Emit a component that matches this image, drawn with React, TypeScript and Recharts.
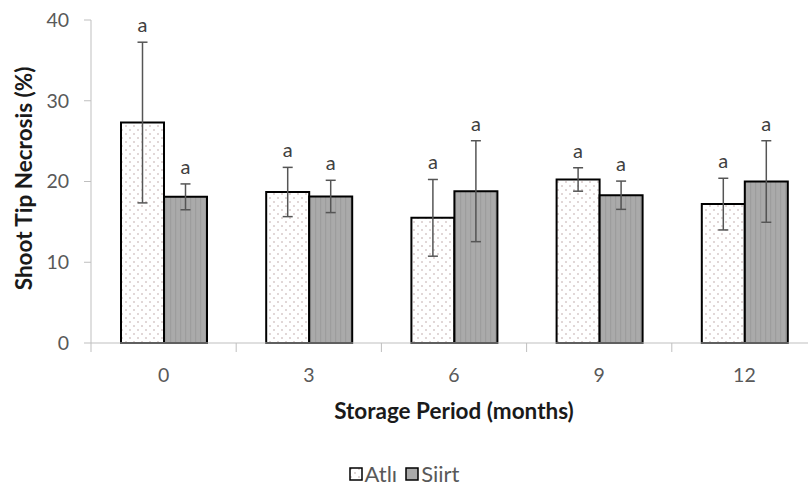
import React from 'react';
import { BarChart, Bar, XAxis, YAxis, ErrorBar, LabelList, Label, Legend } from 'recharts';

const categories = ['0', '3', '6', '9', '12'];
const atliValues = [27.3, 18.7, 15.5, 20.25, 17.2];
const atliErrors = [9.95, 3.05, 4.75, 1.45, 3.2];
const atliLetters = ['a', 'a', 'a', 'a', 'a'];
const siirtValues = [18.1, 18.15, 18.8, 18.3, 20.0];
const siirtErrors = [1.6, 2.0, 6.25, 1.75, 5.05];
const siirtLetters = ['a', 'a', 'a', 'a', 'a'];
const yTicks = [0, 10, 20, 30, 40];

const data = categories.map((c, i) => ({
  period: c,
  atli: atliValues[i],
  atliErr: atliErrors[i],
  siirt: siirtValues[i],
  siirtErr: siirtErrors[i],
}));

const FONT = 'Lato, "Open Sans", sans-serif';
const AXIS_GRAY = '#bfbfbf';
const TEXT_GRAY = '#595959';

const XTick = (props: any) => {
  const { x, y, payload } = props;
  const off = payload && payload.offset != null ? payload.offset : 0;
  return (
    <g>
      <line x1={x - off} x2={x - off} y1={y} y2={y + 9} stroke={AXIS_GRAY} strokeWidth={1} />
      <text x={x} y={y + 39} textAnchor="middle" fill={TEXT_GRAY} fontSize={19.5} fontFamily={FONT}>
        {payload.value}
      </text>
    </g>
  );
};

const makeLetter = (errs: number[], letters: string[]) => (props: any) => {
  const { x, y, width, height, value, index } = props;
  const v = Number(value);
  if (!v) return null;
  const ppu = Number(height) / v;
  const topY = Number(y) - errs[index] * ppu;
  return (
    <text
      x={Number(x) + Number(width) / 2}
      y={topY - 10}
      textAnchor="middle"
      fill="#404040"
      fontSize={20}
      fontFamily={FONT}
    >
      {letters[index]}
    </text>
  );
};

const YTitle = (props: any) => {
  const vb = props.viewBox || {};
  const cy = (vb.y || 0) + (vb.height || 0) / 2 - 3;
  return (
    <text
      transform={`translate(32, ${cy}) rotate(-90)`}
      textAnchor="middle"
      fill="#1a1a1a"
      fontSize={22.5}
      fontWeight="bold"
      fontFamily={FONT}
    >
      Shoot Tip Necrosis (%)
    </text>
  );
};

const XTitle = (props: any) => {
  const vb = props.viewBox || {};
  const cx = (vb.x || 0) + (vb.width || 0) / 2;
  return (
    <text
      x={cx}
      y={(vb.y || 0) + 76}
      textAnchor="middle"
      fill="#1a1a1a"
      fontSize={22.5}
      fontWeight="bold"
      fontFamily={FONT}
    >
      Storage Period (months)
    </text>
  );
};

const LegendContent = () => (
  <div
    style={{
      display: 'flex',
      justifyContent: 'center',
      alignItems: 'center',
      fontFamily: FONT,
      fontSize: 22,
      lineHeight: '26px',
      color: TEXT_GRAY,
      width: 808,
    }}
  >
    <svg width={14} height={14} style={{ marginRight: 2 }}>
      <rect x={1} y={1} width={12} height={12} fill="url(#dotsPattern)" stroke="#000" strokeWidth={1.5} />
    </svg>
    <span style={{ marginRight: 8 }}>Atlı</span>
    <svg width={14} height={14} style={{ marginRight: 2 }}>
      <rect x={1} y={1} width={12} height={12} fill="#a9a9a9" stroke="#000" strokeWidth={1.5} />
    </svg>
    <span>Siirt</span>
  </div>
);

export default function App() {
  return (
    <div
      style={{
        position: 'absolute',
        left: 0,
        top: 0,
        width: 808,
        height: 488,
        overflow: 'hidden',
        background: '#fff',
      }}
    >
      <BarChart
        width={817}
        height={488}
        data={data}
        margin={{ top: 20, right: 0, bottom: 0, left: 0 }}
        barCategoryGap={30}
        barGap={0}
      >
        <defs>
          <pattern id="dotsPattern" width="8" height="8" patternUnits="userSpaceOnUse">
            <rect width="8" height="8" fill="#ffffff" />
            <circle cx="2" cy="2" r="0.75" fill="#b49c9c" />
            <circle cx="6" cy="6" r="0.75" fill="#b49c9c" />
          </pattern>
          <pattern id="stripesPattern" width="5" height="5" patternUnits="userSpaceOnUse">
            <rect width="5" height="5" fill="#aaaaaa" />
            <rect x="0" width="1.2" height="5" fill="#9d9d9d" />
          </pattern>
        </defs>
        <XAxis
          dataKey="period"
          height={145}
          axisLine={{ stroke: AXIS_GRAY, strokeWidth: 1 }}
          tickLine={false}
          tickSize={0}
          tickMargin={0}
          tick={<XTick />}
          interval={0}
        >
          <Label content={<XTitle />} />
        </XAxis>
        <YAxis
          width={91}
          domain={[0, 40]}
          ticks={yTicks}
          axisLine={{ stroke: AXIS_GRAY, strokeWidth: 1 }}
          tickLine={{ stroke: AXIS_GRAY, strokeWidth: 1 }}
          tickSize={7}
          tickMargin={15}
          tick={{ fill: TEXT_GRAY, fontSize: 19.5, fontFamily: FONT }}
        >
          <Label content={<YTitle />} />
        </YAxis>
        <Legend
          layout="horizontal"
          verticalAlign="middle"
          align="center"
          content={<LegendContent />}
          wrapperStyle={{ top: 461, left: 0, width: 808 }}
        />
        <Bar
          dataKey="atli"
          name="Atlı"
          fill="url(#dotsPattern)"
          stroke="#000"
          strokeWidth={2}
          isAnimationActive={false}
        >
          <ErrorBar dataKey="atliErr" width={5} stroke="#555" strokeWidth={1.5} />
          <LabelList dataKey="atli" content={makeLetter(atliErrors, atliLetters)} />
        </Bar>
        <Bar
          dataKey="siirt"
          name="Siirt"
          fill="url(#stripesPattern)"
          stroke="#000"
          strokeWidth={2}
          isAnimationActive={false}
        >
          <ErrorBar dataKey="siirtErr" width={5} stroke="#555" strokeWidth={1.5} />
          <LabelList dataKey="siirt" content={makeLetter(siirtErrors, siirtLetters)} />
        </Bar>
      </BarChart>
    </div>
  );
}
